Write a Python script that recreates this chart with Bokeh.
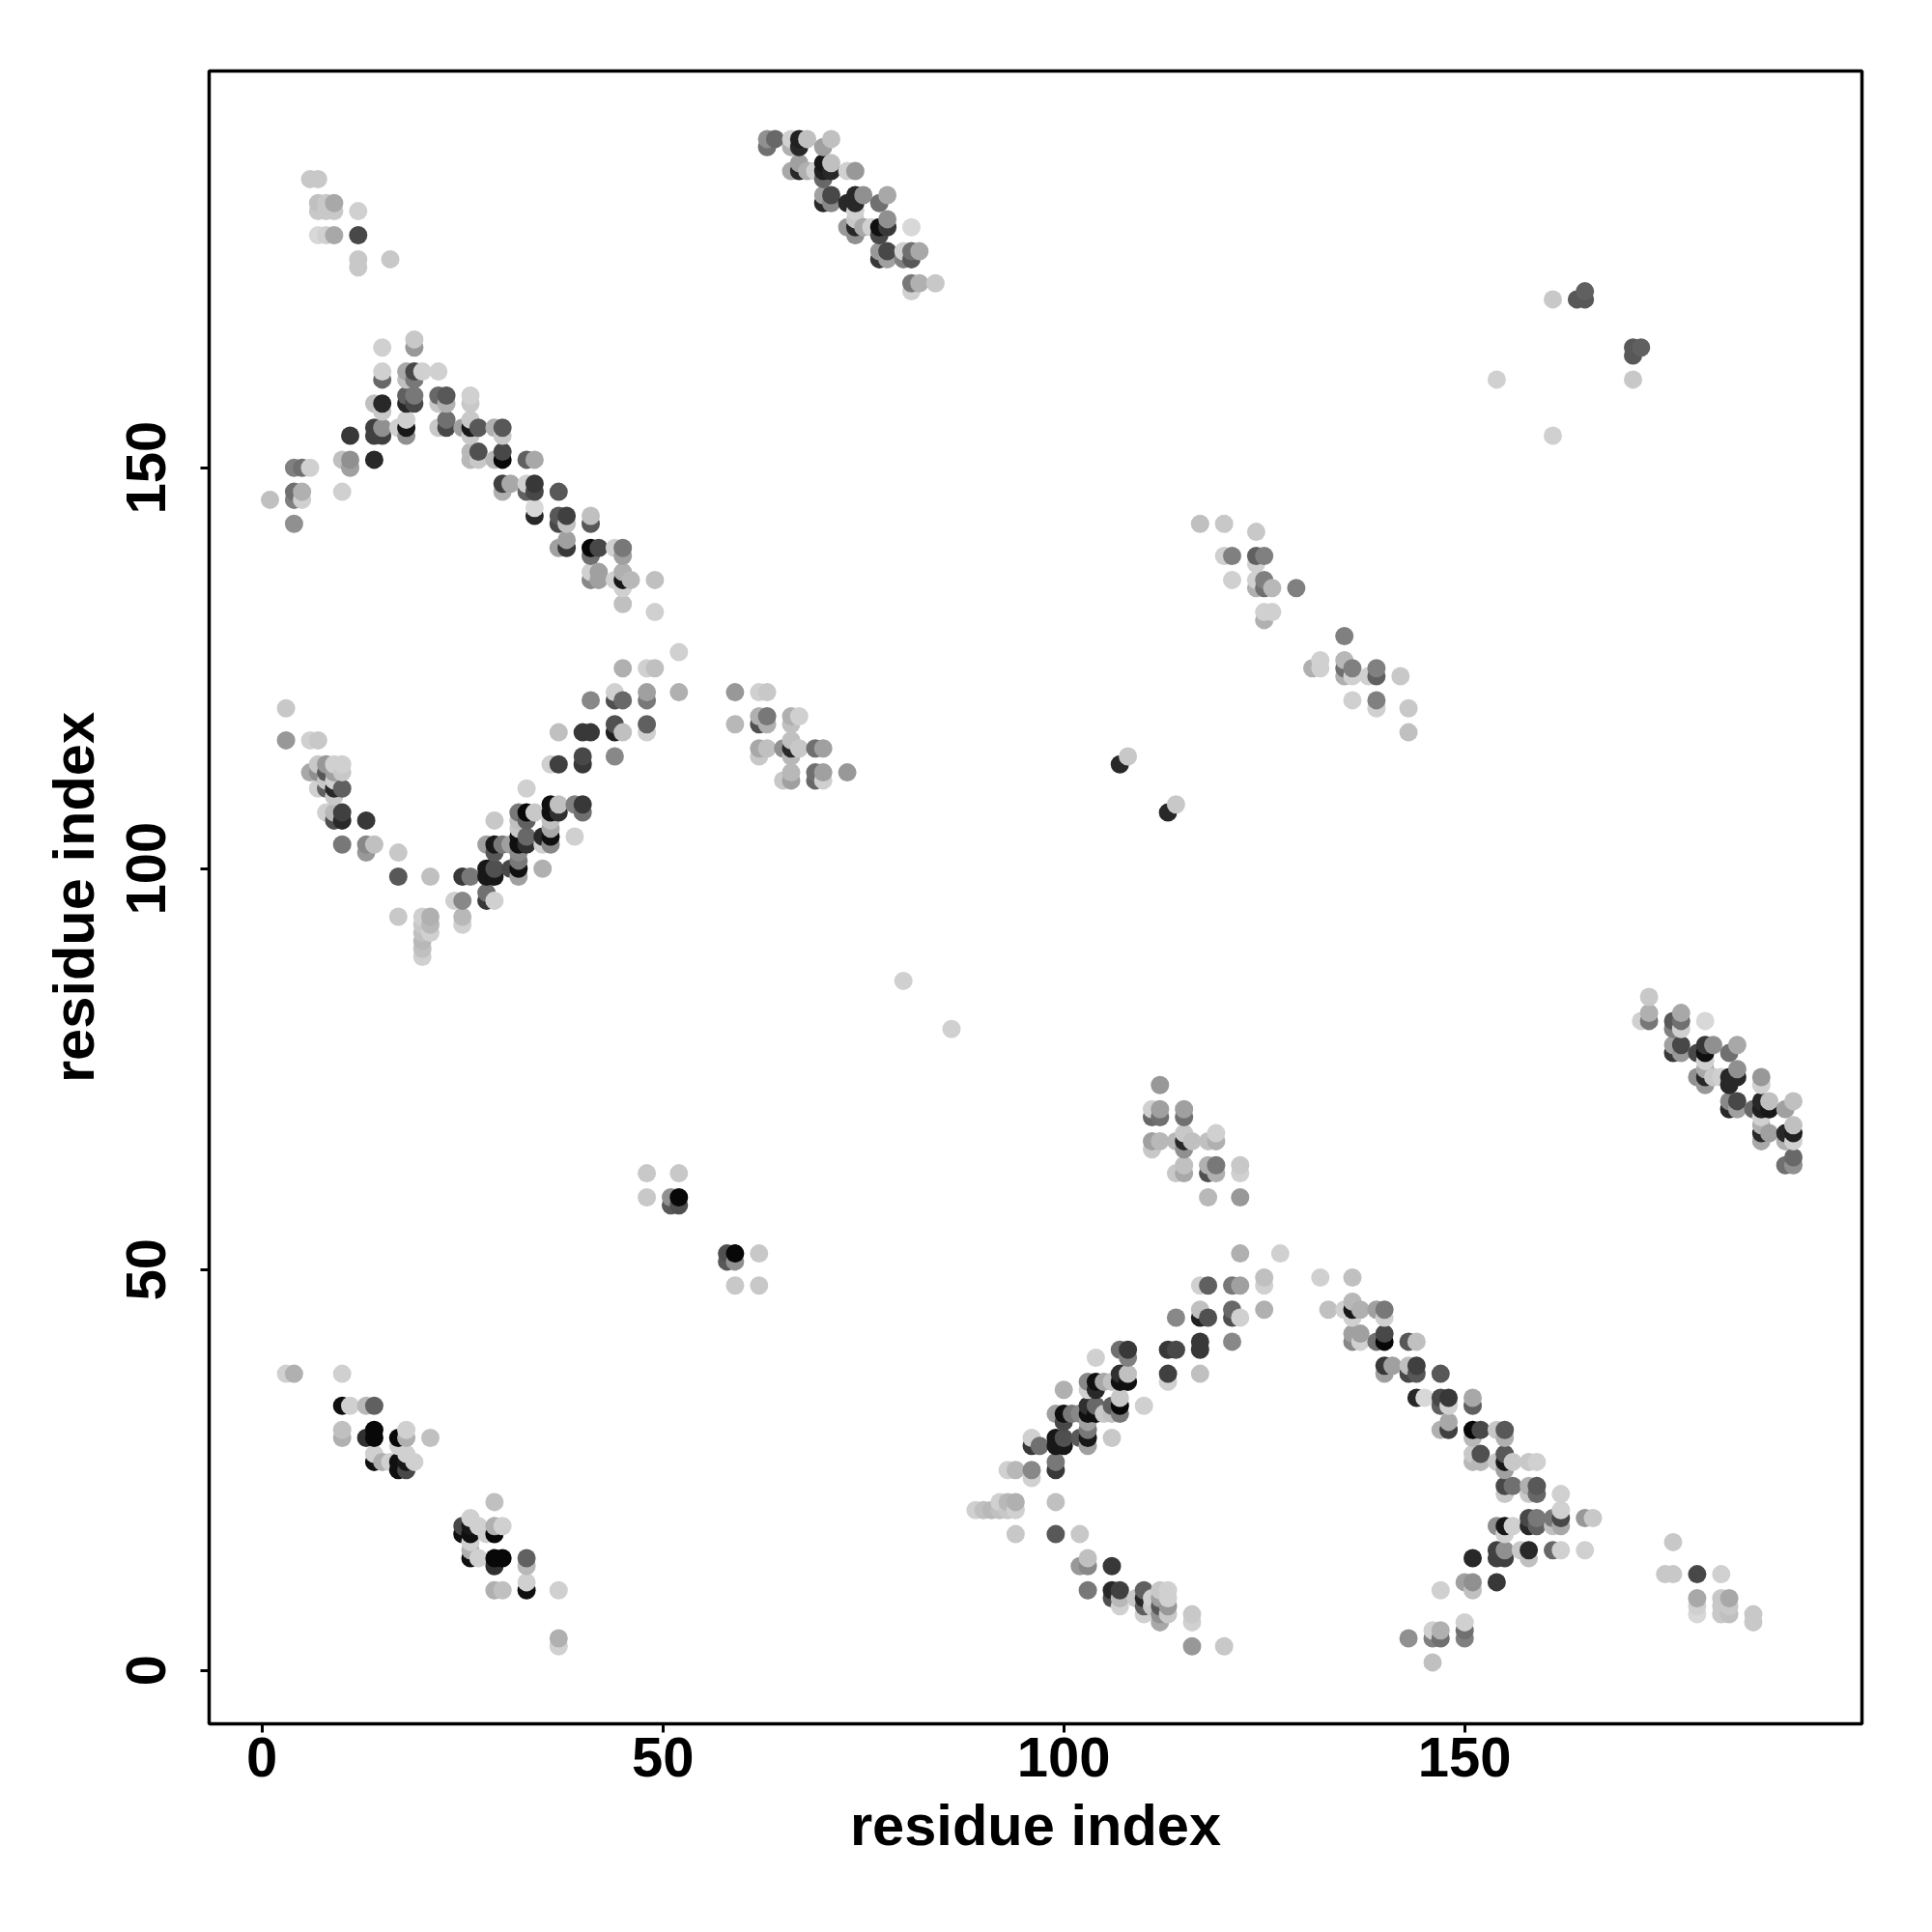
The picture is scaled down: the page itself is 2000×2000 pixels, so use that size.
from bokeh.plotting import figure
from bokeh.models import ColumnDataSource, FixedTicker, Range1d
from bokeh.embed import file_html
from bokeh.resources import INLINE

# Symmetric contact map: each list holds (residue i, residue j, grey level) for i < j
block_corner = [
    (3,37,0xd0),(4,37,0xb0),(10,37,0xd0),(10,33,0x10),(11,33,0xd0),(13,33,0xb8),(14,33,0x60),
    (10,30,0xc0),(10,29,0xb0),(13,29,0x30),(14,30,0x08),(14,29,0x08),(17,29,0x08),(18,30,0xd0),
    (18,29,0xb0),(21,29,0xc0),(17,28,0xd0),(14,27,0xd0),(14,26,0x10),(15,26,0xb0),(16,26,0xd0),
    (17,26,0x10),(17,25,0x10),(18,27,0xd0),(18,26,0x18),(18,25,0x48),(19,26,0xd0),
]
block_small = [
    (48,62,0xc8),(48,59,0xc8),(52,62,0xc8),(52,59,0x08),(51,59,0x90),(51,58,0x58),(52,58,0x50),
    (80,86,0xd0),(107,113,0x28),(108,114,0xc8),
    (154,161,0xd0),(161,171,0xc8),(164,171,0x58),(165,171,0x58),(165,172,0x60),
]
block_upper_arm = [
    (1,146,0xc0),(4,150,0x80),(5,150,0x70),(6,150,0xd0),(4,147,0x70),(4,146,0x80),(5,147,0xb0),(5,146,0xd0),
    (4,143,0x90),(10,151,0xc0),(11,151,0x90),(11,150,0xa0),(10,147,0xd0),(11,154,0x38),(14,151,0x28),
    (14,155,0x40),(14,154,0x40),(15,155,0x90),(15,154,0x40),(14,158,0xc0),(15,158,0x28),(15,157,0xc8),
    (15,162,0xd0),(15,161,0x68),(15,165,0xd0),(17,155,0xd0),(18,156,0xd0),(18,155,0x18),(18,154,0x90),
    (18,158,0x28),(18,159,0x60),(18,161,0xc0),(18,162,0xa8),(19,158,0x48),(19,159,0x78),(19,161,0x78),
    (19,162,0x48),(19,165,0x98),(19,166,0xc8),(20,162,0xd0),(22,162,0xd0),(22,159,0x68),(23,159,0x58),
    (23,158,0xb0),(22,158,0xc8),(23,156,0x70),(23,155,0x48),(22,155,0xc8),(26,159,0xd0),(26,158,0xc8),
    (26,156,0xc8),(25,155,0xa0),(26,155,0x18),(27,155,0x58),(26,154,0xc8),(29,155,0xb0),(30,155,0x58),
    (30,154,0xc8),(26,152,0xb8),(26,151,0xb8),(27,152,0x50),(27,151,0xc8),(29,151,0xb8),(30,152,0x48),
    (30,151,0x08),(33,151,0x60),(34,151,0xa8),(30,148,0x40),(30,147,0xb0),(31,148,0xa8),(33,148,0xd0),
    (33,147,0x60),(34,148,0x38),(34,147,0x48),(34,145,0xd8),(34,144,0x28),(37,147,0x58),(37,144,0x58),
    (37,143,0x48),(38,144,0x40),(38,143,0xc0),(41,144,0xc0),(41,143,0x58),(37,140,0xa0),(38,141,0xa0),
    (38,140,0x38),(41,140,0x08),(41,139,0x70),(42,140,0x48),(44,140,0xd0),(45,140,0x78),(45,139,0xa0),
    (41,137,0xd0),(41,136,0x88),(42,137,0xa0),(42,136,0xa0),(44,136,0xd0),(45,137,0xb0),(45,136,0x18),
    (45,135,0xd0),(46,136,0xb8),(45,133,0xc0),(49,136,0xc0),(49,132,0xd0),(52,127,0xd0),
]
block_lower_arm = [
    (3,120,0xc8),(3,116,0x98),(6,116,0xd0),(7,116,0xc8),(6,112,0xa8),(7,113,0xc8),(7,112,0x90),(7,110,0xd0),
    (8,113,0x98),(8,112,0x58),(8,111,0xc8),(8,110,0x60),(9,113,0xd0),(9,112,0xa0),(9,111,0xd0),(9,110,0x28),
    (9,109,0xc8),(10,113,0xd0),(10,112,0xc8),(10,110,0x60),(8,107,0xd0),(9,107,0xb8),(9,106,0x50),
    (10,107,0x40),(10,106,0x28),(13,106,0x38),(10,103,0x78),(13,103,0x88),(13,102,0x98),(14,103,0xc0),
    (17,102,0xc8),(17,99,0x58),(21,99,0xc0),(17,94,0xc8),(20,94,0xd0),(20,93,0xc8),(20,92,0xc0),(20,91,0xb8),
    (20,90,0xc0),(20,89,0xd0),(21,94,0xb0),(21,93,0xb8),(21,92,0xd0),(24,96,0xd0),(25,96,0x88),(25,94,0xb8),
    (25,93,0xd0),(25,99,0x38),(26,99,0x78),(28,100,0x18),(28,99,0x18),(29,100,0x50),(29,99,0x18),(28,97,0x70),
    (28,96,0x38),(29,96,0xd0),(31,100,0x48),(29,106,0xc8),(28,103,0xa0),(29,103,0x18),(29,102,0x58),
    (30,103,0x78),(31,103,0xa0),(32,107,0x78),(32,106,0xc0),(32,105,0xc8),(32,104,0x10),(32,103,0x10),
    (32,102,0x88),(32,101,0x78),(32,100,0x10),(32,99,0xa0),(33,107,0x08),(33,106,0x60),(33,104,0x68),
    (33,103,0x30),(33,110,0xd0),(34,107,0xc8),(35,104,0x28),(35,103,0xd0),(35,100,0xb0),(36,108,0x10),
    (36,107,0x10),(36,106,0xc0),(36,105,0xa8),(36,104,0x10),(36,103,0x88),(37,108,0xc0),(37,107,0x30),
    (39,104,0xd0),(39,108,0x80),(40,108,0x38),(40,107,0x70),(37,117,0xc0),(36,113,0xd0),(37,113,0x40),
    (40,117,0x38),(41,117,0x38),(40,114,0x48),(40,113,0x38),(44,114,0x88),(44,118,0x50),(44,117,0x20),
    (45,117,0xc0),(48,118,0x60),(48,117,0xd0),(41,121,0x88),(44,122,0xd0),(44,121,0x50),(45,121,0x68),
    (48,122,0xa0),(48,121,0x78),(52,122,0xb0),(45,125,0xb0),(48,125,0xd0),(49,125,0xc0),
]
block_strand = [
    (63,191,0x90),(63,190,0x70),(64,191,0x68),(66,190,0xb0),(66,191,0xd0),(67,191,0x20),(67,190,0x28),
    (68,191,0xc0),(70,190,0xa0),(71,191,0xc0),(66,187,0xa8),(67,188,0xa0),(67,187,0x28),(68,187,0xb0),
    (69,187,0xd0),(70,188,0x18),(70,187,0x20),(70,186,0x68),(71,188,0xc0),(71,187,0x28),(73,187,0xd0),
    (74,187,0x98),(70,184,0xa0),(70,183,0x28),(71,184,0x48),(71,183,0x88),(73,183,0x28),(74,184,0x28),
    (74,183,0x28),(75,184,0x90),(77,183,0x70),(78,184,0xa8),(74,182,0xd0),(73,180,0x98),(74,181,0xc8),
    (74,180,0x28),(74,179,0x90),(75,180,0xa8),(76,180,0xd0),(77,180,0x10),(77,179,0x48),(78,181,0x90),
    (78,180,0x38),(81,180,0xd8),(77,177,0x98),(77,176,0x38),(78,177,0x48),(78,176,0xa0),(80,177,0xd0),
    (80,176,0x80),(81,177,0x70),(81,176,0x58),(82,177,0xa8),(81,173,0x78),(81,172,0xd0),(82,173,0xb0),
    (84,173,0xc8),
]
block_top_left = [
    (6,186,0xc8),(7,186,0xc8),(7,183,0xc0),(7,182,0xc8),(8,183,0xc8),(8,182,0xc8),(9,183,0xa8),(9,182,0xc8),
    (12,182,0xd0),(7,179,0xd8),(8,179,0xd0),(9,179,0xa8),(12,179,0x48),(12,176,0xc8),(12,175,0xc8),(16,176,0xc8),
]
block_centre = [
    (59,122,0x98),(62,122,0xd0),(63,122,0xc8),(59,118,0xb8),(62,119,0xb0),(62,118,0x50),(63,119,0x78),
    (63,118,0xb0),(66,119,0xb0),(67,119,0xd0),(66,118,0xc0),(62,115,0xa8),(62,114,0xc8),(63,115,0xc0),
    (65,115,0x90),(66,116,0xc0),(66,115,0x28),(66,114,0xb8),(67,115,0xc8),(69,115,0x70),(70,115,0xa0),
    (65,111,0xc8),(66,112,0xb8),(66,111,0xa0),(69,112,0x70),(69,111,0x68),(70,112,0xa0),(70,111,0xd0),
    (73,112,0x98),
]
block_right = [
    (117,143,0xc0),(120,143,0xc8),(124,142,0xc8),(120,139,0xd0),(121,139,0x80),(124,139,0x60),(125,139,0x80),
    (124,138,0xd0),(121,136,0xd0),(124,136,0xd0),(124,135,0xb0),(125,136,0x80),(125,135,0x70),(126,135,0xb8),
    (129,135,0x80),(125,132,0xd0),(126,132,0xd0),(125,131,0xb0),
]
tick_values = [0, 50, 100, 150]
axis_title = "residue index"

contacts = {}
for block in (block_corner, block_small, block_upper_arm, block_lower_arm,
              block_strand, block_top_left, block_centre, block_right):
    for i, j, g in block:
        contacts[(i, j)] = g
        contacts[(j, i)] = g

keys = sorted(contacts)
source = ColumnDataSource(dict(
    x=[k[0] for k in keys],
    y=[k[1] for k in keys],
    color=["#%02x%02x%02x" % (contacts[k], contacts[k], contacts[k]) for k in keys],
))

K = 8.3
FL, FT, FS = 216, 73, 1711
p = figure(width=1992, height=1992, output_backend="svg", toolbar_location=None,
           x_range=Range1d((FL - 270.7) / K, (FL + FS - 270.7) / K),
           y_range=Range1d((1728.7 - FT - FS) / K, (1728.7 - FT) / K),
           min_border_left=FL, min_border_top=FT, min_border_right=65, min_border_bottom=208)
p.grid.visible = False
p.background_fill_color = "white"
p.border_fill_color = "white"
p.outline_line_color = "black"
p.outline_line_width = 3.5

p.scatter("x", "y", source=source, marker="circle", size=19, fill_color="color", line_color=None)

for ax in (p.xaxis[0], p.yaxis[0]):
    ax.ticker = FixedTicker(ticks=tick_values)
    ax.axis_line_color = None
    ax.major_tick_in = 0
    ax.major_tick_out = 9
    ax.major_tick_line_width = 3
    ax.major_tick_line_color = "black"
    ax.minor_tick_line_color = None
    ax.axis_label = axis_title
    ax.axis_label_text_font = "Liberation Sans"
    ax.axis_label_text_font_style = "bold"
    ax.axis_label_text_font_size = "59.6px"
    ax.axis_label_text_color = "black"
    ax.major_label_text_font = "Liberation Sans"
    ax.major_label_text_font_style = "bold"
    ax.major_label_text_font_size = "58px"
    ax.major_label_text_color = "black"
p.xaxis[0].major_label_standoff = 5
p.xaxis[0].axis_label_standoff = 14
p.yaxis[0].major_label_orientation = "vertical"
p.yaxis[0].major_label_standoff = 36
p.yaxis[0].axis_label_standoff = 19

open("out.html", "w").write(file_html(p, INLINE))
